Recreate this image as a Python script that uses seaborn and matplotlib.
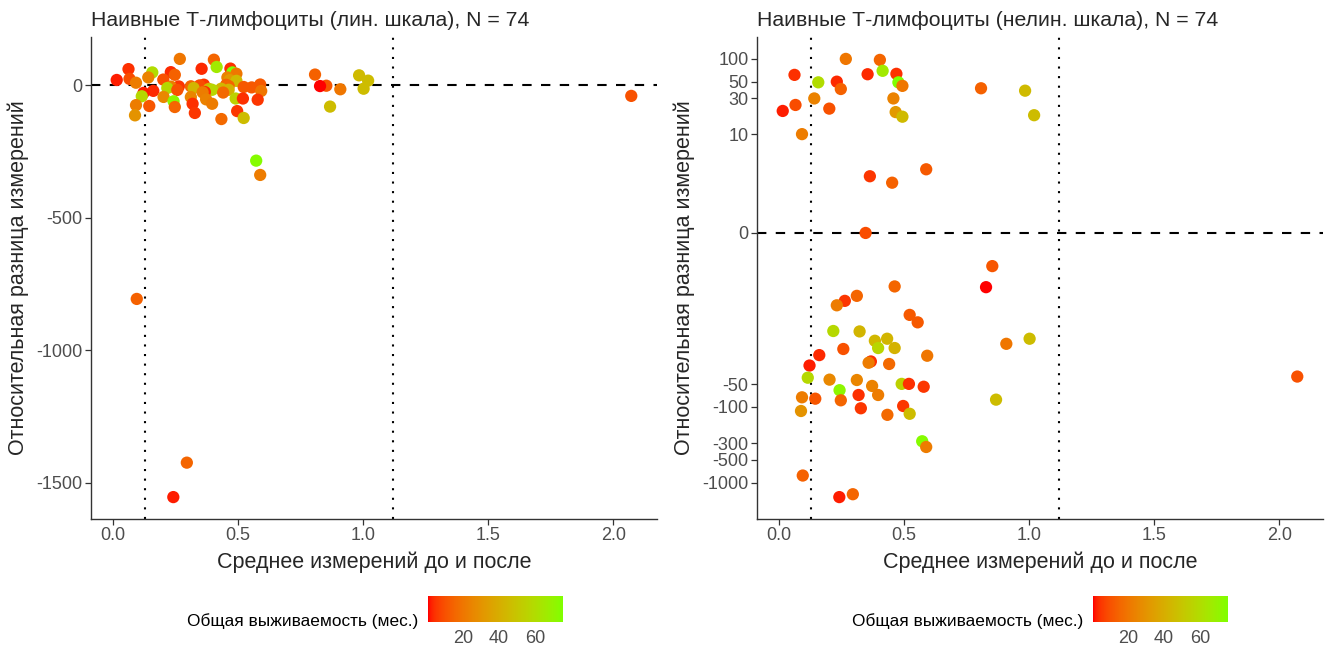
import numpy as np
import pandas as pd
import matplotlib
matplotlib.use("Agg")
import matplotlib.pyplot as plt
import matplotlib.colors as mcolors
import matplotlib.ticker as mticker
import seaborn as sns

# ---- data -------------------------------------------------------------
mean_vals = [0.268, 0.404, 0.063, 0.355, 0.415, 0.470, 0.158, 0.232, 0.248, 0.478,
             0.494, 0.142, 0.458, 0.067, 0.016, 0.202, 0.467, 0.494, 0.093, 0.808,
             0.984, 1.020, 0.364, 0.453, 0.589, 0.347, 0.853, 0.828, 0.463, 0.312,
             0.264, 0.232, 0.523, 0.555, 0.218, 0.323, 0.384, 0.433, 0.397, 0.463,
             1.002, 0.909, 0.258, 0.162, 0.593, 0.123, 0.368, 0.359, 0.441, 0.116,
             0.203, 0.312, 0.373, 0.491, 0.520, 0.579, 0.243, 0.093, 0.146, 0.248,
             0.319, 0.397, 0.089, 0.328, 0.497, 0.434, 0.523, 0.868, 0.573, 0.589,
             0.096, 0.242, 0.296, 2.071]
rel_diff = [100, 97, 61.5, 62.7, 69.6, 63.5, 49, 50, 40, 49,
            44, 30, 30, 24.6, 20.5, 22, 19.8, 17.2, 10.1, 40.9,
            38, 18, 2.72, 2.2, 3.4, 0.0, -1.19, -2.51, -2.45, -3.32,
            -3.89, -4.47, -6.02, -7.57, -9.87, -10, -13.3, -12.5, -16.6, -16.6,
            -12.5, -14.6, -17.1, -20.6, -21, -28.3, -25, -26, -27, -41,
            -43.5, -44, -52.7, -49.5, -49.5, -54, -60, -74.5, -77.7, -81.6,
            -69.4, -69.4, -113, -104, -97, -127, -123, -80, -284, -338,
            -806, -1554, -1424, -39.6]
survival = [20, 15, 4, 3, 66, 4, 60, 3, 14, 75.6,
            20, 24, 24, 9, 2, 10, 32, 45, 22, 14,
            45, 46, 5, 14, 12, 9, 11, 0.3, 15, 15,
            5, 22, 12, 12, 58, 43, 44, 43, 57, 42,
            46, 20, 10, 3, 20, 2, 4, 22, 16, 58,
            26, 25, 24, 55, 4, 5, 72, 22, 11, 15,
            4, 22, 30, 5, 5, 16, 46, 46, 74, 22,
            14, 2, 15, 10]

loa_lines = [0.129, 1.120]
n_obs = len(mean_vals)
panel_titles = [f"Наивные Т-лимфоциты (лин. шкала), N = {n_obs}",
                f"Наивные Т-лимфоциты (нелин. шкала), N = {n_obs}"]
x_label = "Среднее измерений до и после"
y_label = "Относительная разница измерений"
legend_title = "Общая выживаемость (мес.)"
lin_ticks = [0, -500, -1000, -1500]
nonlin_ticks = [100, 50, 30, 10, 0, -50, -100, -300, -500, -1000]
x_ticks = [0.0, 0.5, 1.0, 1.5, 2.0]
cbar_ticks = [20, 40, 60]

df = pd.DataFrame({"mean": mean_vals, "diff": rel_diff, "surv": survival})


# ---- red -> chartreuse gradient interpolated in CIELAB ------------------
_M = np.array([[0.4124564, 0.3575761, 0.1804375],
               [0.2126729, 0.7151522, 0.0721750],
               [0.0193339, 0.1191920, 0.9503041]])
_WHITE = np.array([0.95047, 1.0, 1.08883])


def to_lab(col):
    rgb = np.array(mcolors.to_rgb(col))
    lin = np.where(rgb <= 0.04045, rgb / 12.92, ((rgb + 0.055) / 1.055) ** 2.4)
    t = (_M @ lin) / _WHITE
    d = 6 / 29
    f = np.where(t > d ** 3, np.cbrt(t), t / (3 * d * d) + 4 / 29)
    return np.array([116 * f[1] - 16, 500 * (f[0] - f[1]), 200 * (f[1] - f[2])])


def from_lab(lab):
    L, a, b = lab
    fy = (L + 16) / 116
    f = np.array([fy + a / 500, fy, fy - b / 200])
    d = 6 / 29
    t = np.where(f > d, f ** 3, 3 * d * d * (f - 4 / 29)) * _WHITE
    lin = np.linalg.solve(_M, t)
    lin = np.clip(lin, 0, 1)
    rgb = np.where(lin <= 0.0031308, lin * 12.92, 1.055 * lin ** (1 / 2.4) - 0.055)
    return np.clip(rgb, 0, 1)


lab_lo, lab_hi = to_lab("#FF0000"), to_lab("#7FFF00")
ramp = [from_lab(lab_lo + (lab_hi - lab_lo) * s) for s in np.linspace(0, 1, 256)]
cmap = mcolors.ListedColormap(ramp, name="surv")
norm = mcolors.Normalize(vmin=min(survival), vmax=max(survival))

# ---- figure -----------------------------------------------------------
sns.set_style("white")
plt.rcParams["font.family"] = ["Liberation Sans", "DejaVu Sans"]
TICK_COL = "#4D4D4D"

fig = plt.figure(figsize=(13.36, 6.49), dpi=100)
ax_l = fig.add_axes([91 / 1336, 1 - 519 / 649, 566 / 1336, 482 / 649])
ax_r = fig.add_axes([757 / 1336, 1 - 519 / 649, 566 / 1336, 482 / 649])

x_lo, x_hi = min(mean_vals), max(mean_vals)
x_pad = 0.05 * (x_hi - x_lo)

for ax in (ax_l, ax_r):
    sns.scatterplot(data=df, x="mean", y="diff", hue="surv", palette=cmap,
                    hue_norm=norm, s=78, linewidth=0, legend=False, ax=ax,
                    zorder=3)
    ax.axhline(0, color="black", lw=1.5, ls=(0, (4.5, 4.5)), zorder=2)
    for xv in loa_lines:
        ax.axvline(xv, color="black", lw=1.5, ls=(0, (1, 3.6)), zorder=2)
    ax.set_xlim(x_lo - x_pad, x_hi + x_pad)
    ax.set_xticks(x_ticks)
    ax.set_xticklabels([f"{v:.1f}" for v in x_ticks])
    ax.set_xlabel(x_label, fontsize=15.5, labelpad=5)
    ax.set_ylabel(y_label, fontsize=15.5, labelpad=5)
    for side in ("top", "right"):
        ax.spines[side].set_visible(False)
    for side in ("left", "bottom"):
        ax.spines[side].set_color("#333333")
        ax.spines[side].set_linewidth(1.0)
    ax.tick_params(axis="both", which="major", length=4, width=0.9,
                   color="#333333", labelcolor=TICK_COL, labelsize=13,
                   left=True, bottom=True, pad=2)

# linear panel
y_lo, y_hi = min(rel_diff), max(rel_diff)
y_pad = 0.05 * (y_hi - y_lo)
ax_l.set_ylim(y_lo - y_pad, y_hi + y_pad)
ax_l.set_yticks(lin_ticks)
ax_l.set_yticklabels([str(v) for v in lin_ticks])
ax_l.set_title(panel_titles[0], loc="left", fontsize=15.3, pad=8)

# non-linear (asinh) panel
ax_r.set_yscale("asinh", linear_width=1)
a_lo, a_hi = np.arcsinh(y_lo), np.arcsinh(y_hi)
a_pad = 0.05 * (a_hi - a_lo)
ax_r.set_ylim(np.sinh(a_lo - a_pad), np.sinh(a_hi + a_pad))
ax_r.yaxis.set_major_locator(mticker.FixedLocator(nonlin_ticks))
ax_r.yaxis.set_major_formatter(mticker.FixedFormatter([str(v) for v in nonlin_ticks]))
ax_r.yaxis.set_minor_locator(mticker.NullLocator())
ax_r.set_title(panel_titles[1], loc="left", fontsize=15.3, pad=8)

# ---- colour bars under each panel ---------------------------------------
for cb_left in (428 / 1336, 1093 / 1336):
    cax = fig.add_axes([cb_left, 1 - 622 / 649, 135 / 1336, 26 / 649])
    cb = fig.colorbar(plt.cm.ScalarMappable(norm=norm, cmap=cmap), cax=cax,
                      orientation="horizontal")
    cb.outline.set_visible(False)
    cb.set_ticks(cbar_ticks)
    cax.tick_params(axis="x", direction="in", color="white", length=5,
                    width=0.8, top=True, bottom=True, labelsize=13,
                    labelcolor=TICK_COL, pad=6)
    cax.text(-0.07, 0.02, legend_title, transform=cax.transAxes,
             ha="right", va="center", fontsize=12.4, color="black")

fig.savefig("out.png", dpi=100)
